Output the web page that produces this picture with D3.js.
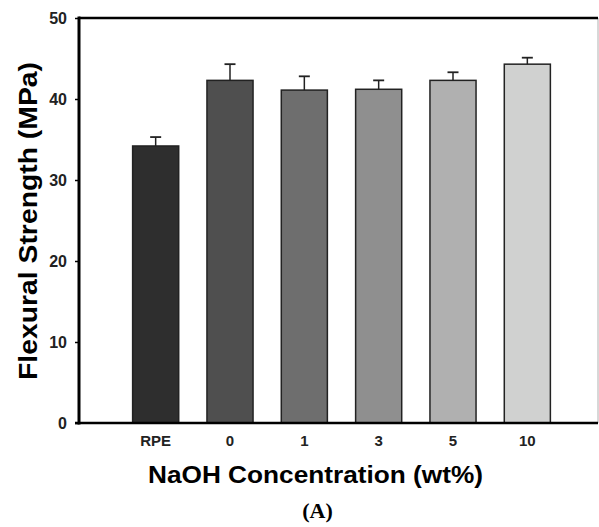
<!DOCTYPE html>
<html>
<head>
<meta charset="utf-8">
<script src="https://cdn.jsdelivr.net/npm/d3@7/dist/d3.min.js"></script>
<style>
  body { margin: 0; background: #fff; }
  svg { display: block; }
</style>
</head>
<body>
<svg id="chart" width="599" height="527"></svg>
<script>
const categories = ["RPE", "0", "1", "3", "5", "10"];
const values = [34.2, 42.3, 41.1, 41.2, 42.3, 44.3];
const errors = [1.1, 2.0, 1.7, 1.1, 1.0, 0.8];
const colors = ["#2e2e2e", "#4f4f4f", "#6e6e6e", "#8f8f8f", "#b0b0b0", "#d0d1d0"];
const yTicks = [0, 10, 20, 30, 40, 50];

(function () {
const svg = d3.select("#chart");
const pL = 79, pR = 598, pT = 18, pB = 423;

const x = d3.scaleBand().domain(categories).range([118.5, 564.5]).paddingInner(0.38).paddingOuter(0.19);
const y = d3.scaleLinear().domain([0, 50]).range([pB, pT]);

// right thin border
svg.append("line").attr("x1", pR).attr("x2", pR).attr("y1", pT).attr("y2", pB)
  .attr("stroke", "#b0b0b0").attr("stroke-width", 1);

// bars
svg.selectAll("rect.bar").data(categories).enter().append("rect")
  .attr("class", "bar")
  .attr("x", d => x(d))
  .attr("width", x.bandwidth())
  .attr("y", (d, i) => y(values[i]))
  .attr("height", (d, i) => pB - y(values[i]))
  .attr("fill", (d, i) => colors[i])
  .attr("stroke", "#222")
  .attr("stroke-width", 1.5);

// error bars
const cap = 5.5;
categories.forEach((d, i) => {
  const cx = x(d) + x.bandwidth() / 2;
  svg.append("line").attr("x1", cx).attr("x2", cx)
    .attr("y1", y(values[i])).attr("y2", y(values[i] + errors[i]))
    .attr("stroke", "#222").attr("stroke-width", 1.5);
  svg.append("line").attr("x1", cx - cap).attr("x2", cx + cap)
    .attr("y1", y(values[i] + errors[i])).attr("y2", y(values[i] + errors[i]))
    .attr("stroke", "#222").attr("stroke-width", 1.8);
});

// y axis
const yAxis = d3.axisLeft(y).tickValues(yTicks).tickSize(4).tickPadding(8).tickFormat(d3.format("d"));
const gy = svg.append("g").attr("transform", `translate(${pL},0)`).call(yAxis);
gy.select(".domain").remove();
gy.selectAll(".tick line").attr("stroke", "#000").attr("stroke-width", 1.5);
gy.selectAll(".tick text").attr("font-family", "Liberation Sans, Arial, sans-serif")
  .attr("font-weight", "bold").attr("font-size", 16).attr("fill", "#222");

svg.append("line").attr("x1", pL).attr("x2", pL).attr("y1", pT - 1.5).attr("y2", pB + 1.5)
  .attr("stroke", "#000").attr("stroke-width", 3);
// top border
svg.append("line").attr("x1", pL).attr("x2", pR).attr("y1", pT).attr("y2", pT)
  .attr("stroke", "#000").attr("stroke-width", 2.5);
// bottom axis
svg.append("line").attr("x1", 75).attr("x2", pR).attr("y1", pB).attr("y2", pB)
  .attr("stroke", "#000").attr("stroke-width", 2.5);

// x tick labels
const xAxis = d3.axisBottom(x).tickSize(0).tickPadding(12);
const gx = svg.append("g").attr("transform", `translate(0,${pB})`).call(xAxis);
gx.select(".domain").remove();
gx.selectAll(".tick text").attr("font-family", "Liberation Sans, Arial, sans-serif")
  .attr("font-weight", "bold").attr("font-size", 15).attr("fill", "#222");

// axis titles
svg.append("text").attr("x", 315.5).attr("y", 483).attr("text-anchor", "middle")
  .attr("font-family", "Liberation Sans, Arial, sans-serif").attr("font-weight", "bold")
  .attr("font-size", 24).attr("textLength", 335).attr("lengthAdjust", "spacingAndGlyphs")
  .text("NaOH Concentration (wt%)");

svg.append("text").attr("transform", "translate(37,221) rotate(-90)").attr("text-anchor", "middle")
  .attr("font-family", "Liberation Sans, Arial, sans-serif").attr("font-weight", "bold")
  .attr("font-size", 25).attr("textLength", 318).attr("lengthAdjust", "spacingAndGlyphs")
  .text("Flexural Strength (MPa)");

svg.append("text").attr("x", 317.5).attr("y", 518).attr("text-anchor", "middle")
  .attr("font-family", "Liberation Serif, Times New Roman, serif").attr("font-weight", "bold")
  .attr("font-size", 22).text("(A)");
})();
</script>
</body>
</html>
